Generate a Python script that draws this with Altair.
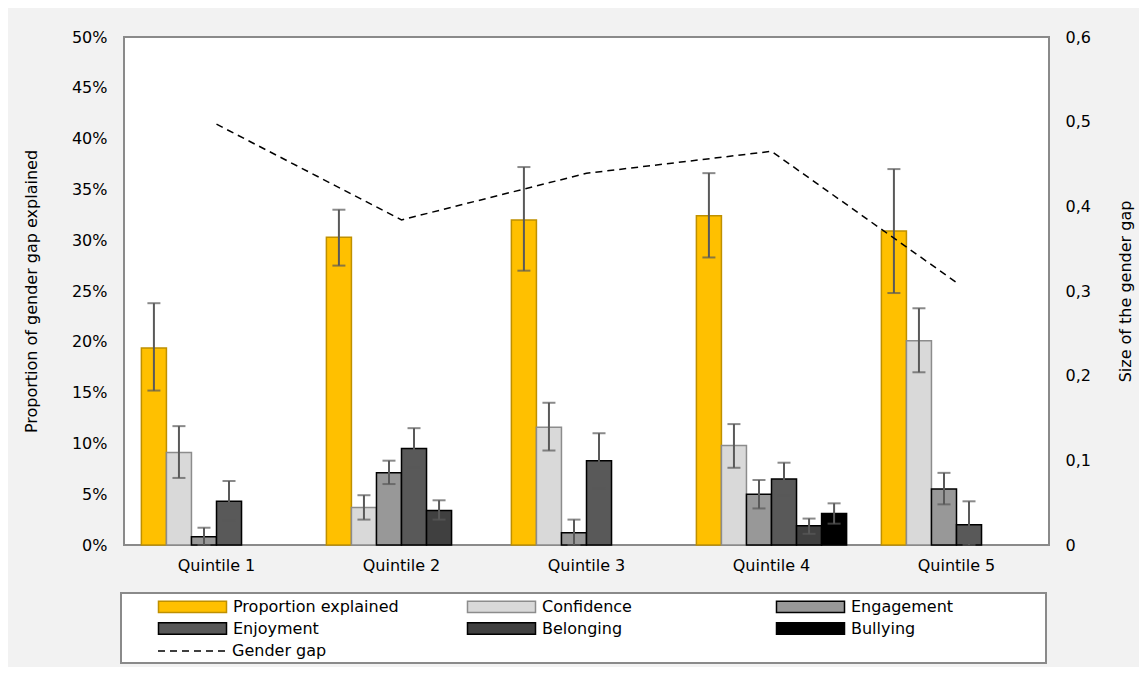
import altair as alt
import pandas as pd

quintiles = ["Quintile 1", "Quintile 2", "Quintile 3", "Quintile 4", "Quintile 5"]
series = ["Proportion explained", "Confidence", "Engagement", "Enjoyment", "Belonging", "Bullying"]

# values in percent of the gender gap explained (None = no bar)
proportion = [19.4, 30.3, 32.0, 32.4, 30.9]
proportion_lo = [15.2, 27.5, 27.0, 28.3, 24.8]
proportion_hi = [23.8, 33.0, 37.2, 36.6, 37.0]
confidence = [9.1, 3.7, 11.6, 9.8, 20.1]
confidence_lo = [6.6, 2.5, 9.3, 7.6, 17.0]
confidence_hi = [11.7, 4.9, 14.0, 11.9, 23.3]
engagement = [0.8, 7.1, 1.2, 5.0, 5.5]
engagement_lo = [0.0, 6.0, 0.0, 3.6, 4.0]
engagement_hi = [1.7, 8.3, 2.5, 6.4, 7.1]
enjoyment = [4.3, 9.5, 8.3, 6.5, 2.0]
enjoyment_lo = [2.4, 7.6, 5.6, 4.9, 0.0]
enjoyment_hi = [6.3, 11.5, 11.0, 8.1, 4.3]
belonging = [None, 3.4, None, 1.9, None]
belonging_lo = [None, 2.5, None, 1.1, None]
belonging_hi = [None, 4.4, None, 2.6, None]
bullying = [None, None, None, 3.1, None]
bullying_lo = [None, None, None, 2.1, None]
bullying_hi = [None, None, None, 4.1, None]

gender_gap = [0.497, 0.384, 0.439, 0.465, 0.310]

fills = ["#FFC000", "#D9D9D9", "#989898", "#595959", "#404040", "#000000"]
strokes = ["#BF9000", "#8C8C8C", "#000000", "#000000", "#000000", "#000000"]

vals = [proportion, confidence, engagement, enjoyment, belonging, bullying]
los = [proportion_lo, confidence_lo, engagement_lo, enjoyment_lo, belonging_lo, bullying_lo]
his = [proportion_hi, confidence_hi, engagement_hi, enjoyment_hi, belonging_hi, bullying_hi]

rows = []
for s, v, lo, hi in zip(series, vals, los, his):
    for q, a, b, c in zip(quintiles, v, lo, hi):
        if a is not None:
            rows.append({"quintile": q, "series": s, "value": a, "lo": b, "hi": c})
bars_df = pd.DataFrame(rows)
gap_df = pd.DataFrame({"quintile": quintiles, "gap": gender_gap, "kind": ["Gender gap"] * 5})
box_df = pd.DataFrame({"k": [0]})

FONT = "DejaVu Sans"
FS = 16

x_enc = alt.X("quintile:N", sort=quintiles,
              scale=alt.Scale(domain=quintiles, paddingInner=0.188, paddingOuter=0.094),
              axis=alt.Axis(title=None, labelAngle=0, ticks=False, domain=False, labelPadding=12,
                            labelFont=FONT, labelFontSize=FS, labelColor="#000"))
xoff = alt.XOffset("series:N", sort=series, scale=alt.Scale(domain=series, paddingInner=0, paddingOuter=0))
y_enc = alt.Y("value:Q", scale=alt.Scale(domain=[0, 50], nice=False),
              axis=alt.Axis(title="Proportion of gender gap explained", values=list(range(0, 55, 5)),
                            labelExpr="datum.value + '%'", grid=False, ticks=False, domain=False,
                            labelPadding=17, titlePadding=32, labelFont=FONT, labelFontSize=FS,
                            titleFont=FONT, titleFontSize=FS, titleFontWeight="normal",
                            labelColor="#000", titleColor="#000"))

# wide flat rectangle symbol: width 6r, height r, r = sqrt(size)/2
sym_path = "M-3,-0.5H3V0.5H-3Z"
leg = alt.Legend(title=None, orient="none", direction="horizontal", legendX=56, legendY=557, columns=3,
                 gridAlign="all", columnPadding=65, rowPadding=0, symbolType=sym_path, symbolSize=514,
                 symbolStrokeWidth=1.5, labelOffset=28, labelLimit=400, labelFont=FONT, labelFontSize=FS,
                 labelColor="#000", padding=0)

box = alt.Chart(box_df).mark_rect(fill="white", stroke="#8a8a8a", strokeWidth=2).encode(
    x=alt.value(-3), x2=alt.value(922), y=alt.value(556), y2=alt.value(626))

bars = alt.Chart(bars_df).mark_bar(strokeWidth=1.5).encode(
    x=x_enc, xOffset=xoff, y=y_enc,
    fill=alt.Fill("series:N", sort=series, scale=alt.Scale(domain=series, range=fills), legend=leg),
    stroke=alt.Stroke("series:N", sort=series, scale=alt.Scale(domain=series, range=strokes), legend=leg),
)

err = alt.Chart(bars_df).mark_rule(color="#595959", strokeWidth=2).encode(
    x=alt.X("quintile:N", sort=quintiles), xOffset=alt.XOffset("series:N", sort=series),
    y="lo:Q", y2="hi:Q")
cap_hi = alt.Chart(bars_df).mark_tick(color="#595959", size=13, thickness=2, orient="horizontal").encode(
    x=alt.X("quintile:N", sort=quintiles), xOffset=alt.XOffset("series:N", sort=series), y="hi:Q")
cap_lo = alt.Chart(bars_df).mark_tick(color="#595959", size=13, thickness=2, orient="horizontal").encode(
    x=alt.X("quintile:N", sort=quintiles), xOffset=alt.XOffset("series:N", sort=series), y="lo:Q")

left = alt.layer(box, bars, err, cap_hi, cap_lo)

line = alt.Chart(gap_df).mark_line(color="black", strokeWidth=1.5).encode(
    x=alt.X("quintile:N", sort=quintiles, bandPosition=0.5),
    y=alt.Y("gap:Q", scale=alt.Scale(domain=[0, 0.6], nice=False),
            axis=alt.Axis(orient="right", title="Size of the gender gap", values=[0, 0.1, 0.2, 0.3, 0.4, 0.5, 0.6],
                          labelExpr="datum.value == 0 ? '0' : replace(format(datum.value, '.1f'), '.', ',')",
                          grid=False, ticks=False, domain=False, labelPadding=16, titlePadding=43,
                          titleAngle=270, labelFont=FONT, labelFontSize=FS, titleFont=FONT, titleFontSize=FS,
                          titleFontWeight="normal", labelColor="#000", titleColor="#000")),
    strokeDash=alt.StrokeDash("kind:N", scale=alt.Scale(domain=["Gender gap"], range=[[7, 5]]),
                              legend=alt.Legend(title=None, orient="none", legendX=33, legendY=579,
                                                symbolType="stroke", symbolSize=4624, symbolStrokeWidth=1.5,
                                                symbolStrokeColor="black", labelOffset=5, labelFont=FONT,
                                                labelFontSize=FS, labelColor="#000", padding=0)),
)

chart = alt.layer(left, line).resolve_scale(y="independent", strokeDash="independent").properties(
    width=925, height=508,
    autosize=alt.AutoSizeParams(type="none"),
    padding={"left": 116, "top": 29, "right": 90, "bottom": 122},
    background="#F2F2F2",
).configure_view(fill="white", stroke="#8a8a8a", strokeWidth=2)

chart.save("out.html", embed_options={"renderer": "svg", "actions": False})
